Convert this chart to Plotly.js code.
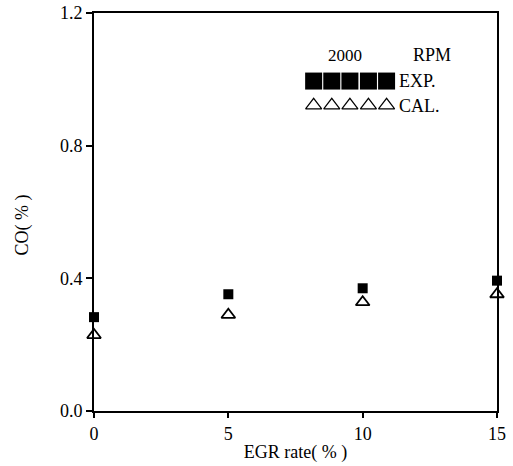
<!DOCTYPE html>
<html><head><meta charset="utf-8">
<script src="https://cdn.plot.ly/plotly-3.0.1.min.js"></script>
<style>html,body{margin:0;padding:0;background:#fff;}#chart{width:513px;height:466px;}</style>
</head><body><div id="chart"></div>
<script>
const egrRate = [0, 5, 10, 15];
const coExp = [0.283, 0.352, 0.370, 0.393];
const coCal = [0.229, 0.290, 0.328, 0.352];
const xTicks = [0, 5, 10, 15];
const yTicks = [0.0, 0.4, 0.8, 1.2];
const speedLabel = "2000";
const unitLabel = "RPM";
const expLabel = "EXP.";
const calLabel = "CAL.";
const xTitle = "EGR rate( % )";
const yTitle = "CO( % )";

const serif = "Liberation Serif, Times New Roman, serif";
const legendXs = [0.545, 0.590, 0.635, 0.681, 0.726];

const traces = [
  {x: egrRate, y: coExp, mode: 'markers', type: 'scatter', name: expLabel, cliponaxis: false,
   marker: {symbol: 'square', size: 10, color: '#000'}},
  {x: egrRate, y: coCal, mode: 'markers', type: 'scatter', name: calLabel, cliponaxis: false,
   marker: {symbol: 'triangle-up-open', size: 12, color: '#000', line: {width: 1.8, color: '#000'}}},
  {x: legendXs, y: legendXs.map(() => 0.829), xaxis: 'x2', yaxis: 'y2', mode: 'markers', type: 'scatter',
   showlegend: false, hoverinfo: 'skip', marker: {symbol: 'square', size: 17, color: '#000'}},
  {x: legendXs, y: legendXs.map(() => 0.768), xaxis: 'x2', yaxis: 'y2', mode: 'markers', type: 'scatter',
   showlegend: false, hoverinfo: 'skip', marker: {symbol: 'triangle-up-open', size: 14, color: '#000', line: {width: 1.2, color: '#000'}}}
];

const layout = {
  width: 513, height: 466,
  margin: {l: 94, r: 16, t: 13, b: 55},
  paper_bgcolor: '#fff', plot_bgcolor: '#fff',
  showlegend: false,
  font: {family: serif, color: '#000', size: 18},
  xaxis: {
    range: [0, 15], tickvals: xTicks, ticktext: xTicks.map(String),
    showgrid: false, zeroline: false, showline: true, linewidth: 2, linecolor: '#000', mirror: true,
    ticks: 'outside', ticklen: 5, tickwidth: 2, tickcolor: '#000',
    tickfont: {family: serif, size: 18},
    title: {text: xTitle, font: {family: serif, size: 18}, standoff: 3}
  },
  yaxis: {
    range: [0, 1.2], tickvals: yTicks, ticktext: yTicks.map(v => v.toFixed(1)),
    showgrid: false, zeroline: false, showline: true, linewidth: 2, linecolor: '#000', mirror: true,
    ticks: 'outside', ticklen: 6, tickwidth: 2, tickcolor: '#000',
    tickfont: {family: serif, size: 18}
  },
  xaxis2: {overlaying: 'x', range: [0, 1], visible: false, fixedrange: true},
  yaxis2: {overlaying: 'y', range: [0, 1], visible: false, fixedrange: true},
  annotations: [
    {xref: 'paper', yref: 'paper', x: -0.178, y: 0.467, text: yTitle, textangle: -90, showarrow: false,
     xanchor: 'center', yanchor: 'middle', font: {family: serif, size: 18}},
    {xref: 'paper', yref: 'paper', x: 0.623, y: 0.894, text: speedLabel, showarrow: false,
     xanchor: 'center', yanchor: 'middle', font: {family: serif, size: 17}},
    {xref: 'paper', yref: 'paper', x: 0.839, y: 0.894, text: unitLabel, showarrow: false,
     xanchor: 'center', yanchor: 'middle', font: {family: serif, size: 18}},
    {xref: 'paper', yref: 'paper', x: 0.752, y: 0.829, text: expLabel, showarrow: false,
     xanchor: 'left', yanchor: 'middle', font: {family: serif, size: 18}},
    {xref: 'paper', yref: 'paper', x: 0.752, y: 0.766, text: calLabel, showarrow: false,
     xanchor: 'left', yanchor: 'middle', font: {family: serif, size: 18}}
  ]
};

Plotly.newPlot('chart', traces, layout, {displayModeBar: false, staticPlot: true});
</script></body></html>
